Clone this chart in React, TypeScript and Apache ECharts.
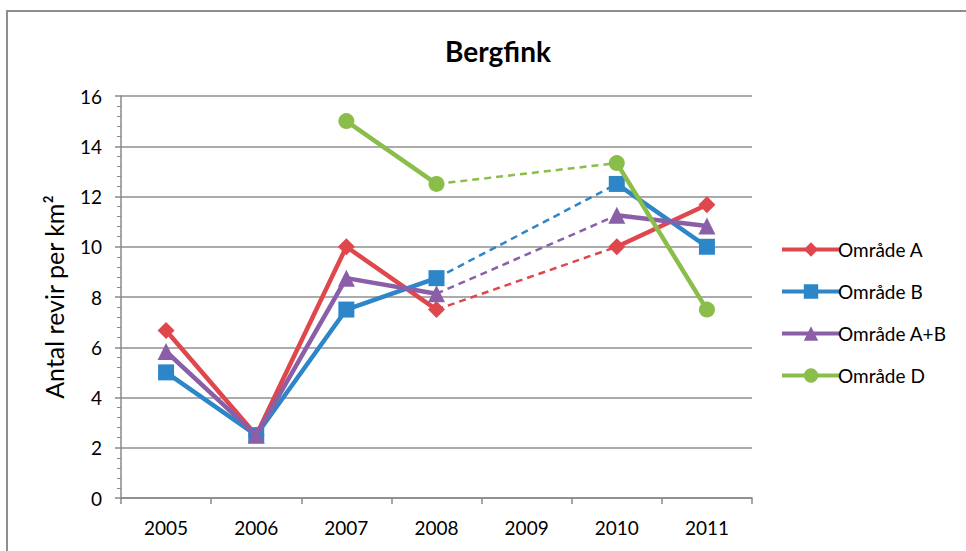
import React, { useEffect, useRef } from "react";
import * as echarts from "echarts";

const years = ["2005", "2006", "2007", "2008", "2009", "2010", "2011"];
const omradeA = [6.67, 2.5, 10, 7.5, null, 10, 11.67];
const omradeB = [5, 2.5, 7.5, 8.75, null, 12.5, 10];
const omradeAB = [5.83, 2.5, 8.75, 8.13, null, 11.25, 10.83];
const omradeD = [null, null, 15, 12.5, null, 13.33, 7.5];

const names = ["Område A", "Område B", "Område A+B", "Område D"];
const colors = ["#E0474C", "#2C86C8", "#8B5FA8", "#8BBD4A"];
const symbols = ["diamond", "rect", "triangle", "circle"];
const symbolSizes = [17, 16, 17, 16];
const allData = [omradeA, omradeB, omradeAB, omradeD];

// dashed bridge over the missing 2009 value
function gapBridge(arr: (number | null)[]) {
  const out: (number | null)[] = arr.map(() => null);
  for (let i = 1; i < arr.length - 1; i++) {
    if (arr[i] === null && arr[i - 1] !== null && arr[i + 1] !== null) {
      out[i - 1] = arr[i - 1];
      out[i + 1] = arr[i + 1];
    }
  }
  return out;
}

export default function App() {
  const ref = useRef<HTMLDivElement>(null);
  useEffect(() => {
    const chart = echarts.init(ref.current!, null, { renderer: "svg" });
    const font = "Lato, 'Open Sans', sans-serif";
    const dashed = allData.map((d, i) => ({
      name: names[i] + " (dashed)",
      type: "line",
      data: gapBridge(d),
      connectNulls: true,
      showSymbol: false,
      symbol: "none",
      lineStyle: { color: colors[i], width: 2.5, type: [7, 5] },
      itemStyle: { color: colors[i] },
      z: 2,
      silent: true,
    }));
    const solid = allData.map((d, i) => ({
      name: names[i],
      type: "line",
      data: d,
      connectNulls: false,
      symbol: symbols[i],
      symbolSize: symbolSizes[i],
      showAllSymbol: true,
      lineStyle: { color: colors[i], width: 4.5 },
      itemStyle: { color: colors[i] },
      z: 3 + i,
    }));
    chart.setOption({
      animation: false,
      textStyle: { fontFamily: font },
      title: {
        text: "Bergfink",
        left: 493,
        textAlign: "center",
        top: 32,
        textStyle: { fontSize: 28, fontWeight: "bold", color: "#000", fontFamily: font },
      },
      graphic: [
        {
          type: "rect",
          shape: { x: 7, y: 11, width: 1000, height: 700 },
          style: { fill: "none", stroke: "#8e8e8e", lineWidth: 2 },
          silent: true,
        },
      ],
      legend: {
        data: names,
        orient: "vertical",
        left: 775,
        top: 235,
        itemWidth: 58,
        itemHeight: 18,
        itemGap: 23,
        lineStyle: { width: 4 },
        textStyle: { fontSize: 19, color: "#000", lineHeight: 18, padding: [0, 0, 0, -7], fontFamily: font },
      },
      grid: { left: 121, right: 214, top: 96, bottom: 53, containLabel: false },
      xAxis: {
        type: "category",
        data: years,
        boundaryGap: true,
        axisLine: { lineStyle: { color: "#898989", width: 1.5 } },
        axisTick: { show: true, length: 6, lineStyle: { color: "#898989", width: 1.5 } },
        axisLabel: { fontSize: 19, color: "#000", margin: 20 },
      },
      yAxis: {
        type: "value",
        min: 0,
        max: 16,
        interval: 2,
        name: "Antal revir per km²",
        nameLocation: "middle",
        nameGap: 55,
        nameTextStyle: { fontSize: 25, color: "#000" },
        axisLine: { show: true, lineStyle: { color: "#898989", width: 1.5 } },
        axisTick: { show: true, length: 6, lineStyle: { color: "#898989", width: 1.5 } },
        minorTick: { show: true, splitNumber: 5, length: 4, lineStyle: { color: "#898989", width: 1 } },
        axisLabel: { fontSize: 19, color: "#000", margin: 19 },
        splitLine: { show: true, lineStyle: { color: "#8f8f8f", width: 1.5 } },
      },
      series: [...dashed, ...solid],
    });
    return () => chart.dispose();
  }, []);
  return (
    <div
      ref={ref}
      style={{ position: "absolute", left: 0, top: 0, width: 966, height: 551, background: "#fff" }}
    />
  );
}
